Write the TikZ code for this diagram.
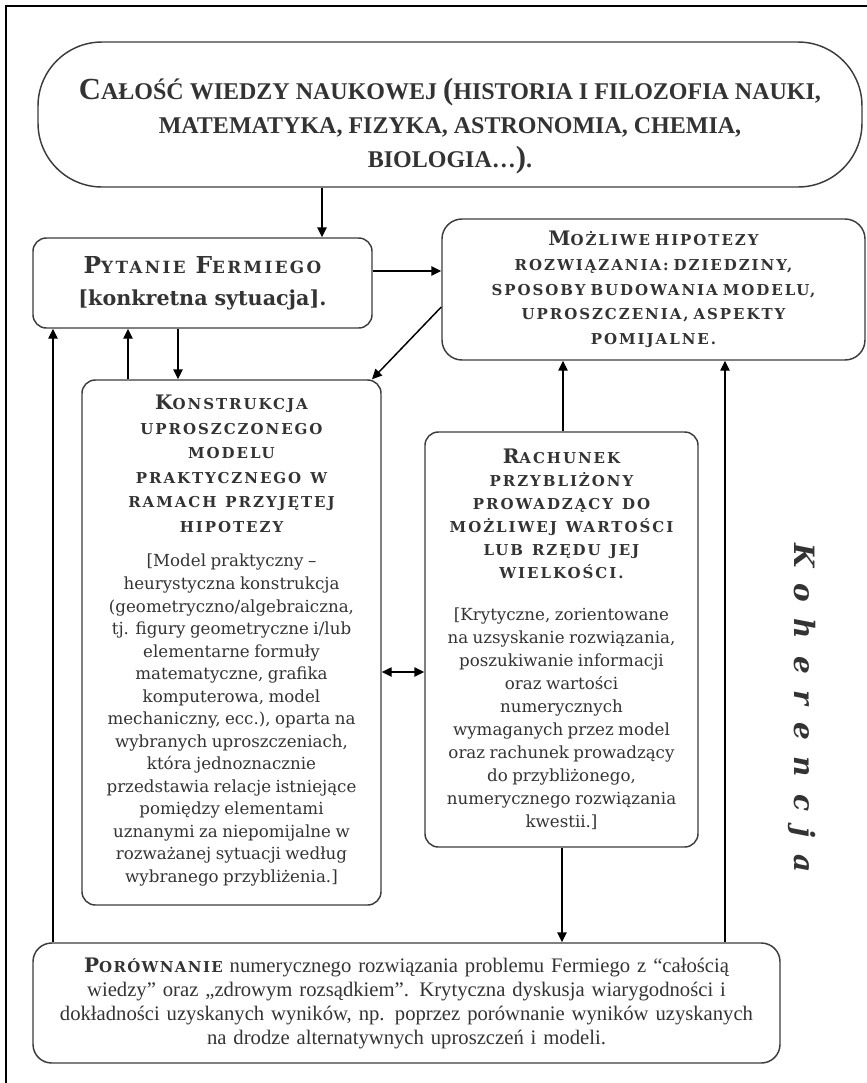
\documentclass[tikz,border=0pt]{standalone}
\usepackage{fontspec}
\setmainfont{DejaVu Serif}
\newfontfamily\condfont{Liberation Serif}
\newfontfamily\capsfont[LetterSpace=13]{DejaVu Serif}
\newfontfamily\kohfont[LetterSpace=60]{DejaVu Serif}
\usetikzlibrary{arrows.meta}
\definecolor{txt}{HTML}{333333}
\definecolor{edge}{HTML}{3C3C3C}
% initial letter of a fake small-caps heading
\newcommand{\Ini}[2]{{\fontsize{#1}{0}\selectfont #2}}
% letter-spaced bold heading font: size, baselineskip
\newcommand{\hd}[2]{\capsfont\bfseries\fontsize{#1}{#2}\selectfont\spaceskip=0.6em\relax}
\tikzset{
  box/.style={draw=edge, line width=1.1pt, rounded corners=10pt, inner sep=0pt, align=center, text=txt},
  arr/.style={-{Triangle[length=7.5pt,width=7pt]}, line width=1.1pt},
  dblarr/.style={{Triangle[length=7.5pt,width=7pt]}-{Triangle[length=7.5pt,width=7pt]}, line width=1.1pt},
  frame/.style={line width=1.1pt}
}
\begin{document}
\begin{tikzpicture}[x=0.75pt, y=-0.75pt]
  \useasboundingbox (0,0) rectangle (867,1083);
  \draw[frame] (6,1083) -- (6,6) -- (867,6);

  % boxes
  \node[box, rounded corners=48pt, minimum width=618pt, minimum height=108.75pt] (calosc) at (450,114.5) {};
  \node[align=center, text=txt, font=\condfont\bfseries\fontsize{18}{25.5}\selectfont] (calosc text) at (450,126)
    {\Ini{23}{C}AŁOŚĆ WIEDZY NAUKOWEJ \Ini{23}{(}HISTORIA I FILOZOFIA NAUKI,\\
     MATEMATYKA, FIZYKA, ASTRONOMIA, CHEMIA,\\
     BIOLOGIA…\Ini{23}{)}.};
  \node[box, minimum width=254.25pt, minimum height=67.5pt, text width=250pt,
        font=\bfseries\fontsize{15.5}{24}\selectfont] (pytanie) at (202.5,283)
    {{\hd{12.6}{24}\addfontfeature{LetterSpace=14}\Ini{17.5}{P}YTANIE \Ini{17.5}{F}ERMIEGO}\\\relax
     [konkretna sytuacja].};
  \node[box, rounded corners=15pt, minimum width=317.25pt, minimum height=105.75pt, text width=310pt,
        font=\hd{11.25}{18.5}] (hipotezy) at (653.5,289.5)
    {\Ini{15}{M}OŻLIWE HIPOTEZY\\ ROZWIĄZANIA: DZIEDZINY,\\ SPOSOBY BUDOWANIA MODELU,\\
     UPROSZCZENIA, ASPEKTY\\ POMIJALNE.};
  \node[box, minimum width=224.25pt, minimum height=393.75pt, text width=222pt] (konstrukcja) at (231.5,642.5)
    {{\hd{11.25}{18.45}\Ini{15}{K}ONSTRUKCJA\\ UPROSZCZONEGO\\ MODELU\\
      PRAKTYCZNEGO W\\ RAMACH PRZYJĘTEJ\\ HIPOTEZY\par}
     \vspace{9pt}
     {\fontsize{12.5}{16.9}\selectfont [Model praktyczny –\\ heurystyczna konstrukcja\\
      (geometryczno/algebraiczna,\\ tj. figury geometryczne i/lub\\ elementarne formuły\\
      matematyczne, grafika\\ komputerowa, model\\ mechaniczny, ecc.), oparta na\\
      wybranych uproszczeniach,\\ która jednoznacznie\\ przedstawia relacje istniejące\\
      pomiędzy elementami\\ uznanymi za niepomijalne w\\ rozważanej sytuacji według\\
      wybranego przybliżenia.]\par}\vspace{3pt}};
  \node[box, minimum width=204.75pt, minimum height=311.25pt, text width=202pt] (rachunek) at (561.5,639.5)
    {{\hd{11.25}{17.25}\Ini{15}{R}ACHUNEK\\ PRZYBLIŻONY\\ PROWADZĄCY DO\\
      MOŻLIWEJ WARTOŚCI\\ LUB RZĘDU JEJ\\ WIELKOŚCI.\par}
     \vspace{14pt}
     {\fontsize{12.5}{17.25}\selectfont [Krytyczne, zorientowane\\ na uzsyskanie rozwiązania,\\
      poszukiwanie informacji\\ oraz wartości\\ numerycznych\\ wymaganych przez model\\
      oraz rachunek prowadzący\\ do przybliżonego,\\ numerycznego rozwiązania\\ kwestii.]\par}};
  \node[box, rounded corners=14pt, minimum width=560.25pt, minimum height=90pt, text width=555pt,
        font=\condfont\fontsize{15.5}{18}\selectfont] (porownanie) at (406.5,1003)
    {{\hd{11.25}{18}\addfontfeature{LetterSpace=9}\Ini{15}{P}ORÓWNANIE} numerycznego rozwiązania problemu Fermiego z “całością\\
     wiedzy” oraz „zdrowym rozsądkiem”. Krytyczna dyskusja wiarygodności i\\
     dokładności uzyskanych wyników, np. poprzez porównanie wyników uzyskanych\\
     na drodze alternatywnych uproszczeń i modeli.};
  \node[rotate=-90, text=txt, font=\kohfont\bfseries\itshape\fontsize{21}{21}\selectfont] (koherencja) at (802,708)
    {Koherencja};

  % connectors
  \draw[arr] (322,0 |- calosc.south) -- (322,0 |- pytanie.north);
  \draw[arr] (pytanie.east |- 0,271) -- (hipotezy.west |- 0,271);
  \draw[arr] (hipotezy.west |- 0,307) -- (372,0 |- konstrukcja.north);
  \draw[arr] (178,0 |- pytanie.south) -- (178,0 |- konstrukcja.north);
  \draw[arr] (128,0 |- konstrukcja.north) -- (128,0 |- pytanie.south);
  \draw[arr] (53,0 |- porownanie.north) -- (53,0 |- pytanie.south);
  \draw[arr] (563,0 |- rachunek.north) -- (563,0 |- hipotezy.south);
  \draw[arr] (725,0 |- porownanie.north) -- (725,0 |- hipotezy.south);
  \draw[arr] (562,0 |- rachunek.south) -- (562,0 |- porownanie.north);
  \draw[dblarr] (konstrukcja.east |- 0,672) -- (rachunek.west |- 0,672);
\end{tikzpicture}
\end{document}
